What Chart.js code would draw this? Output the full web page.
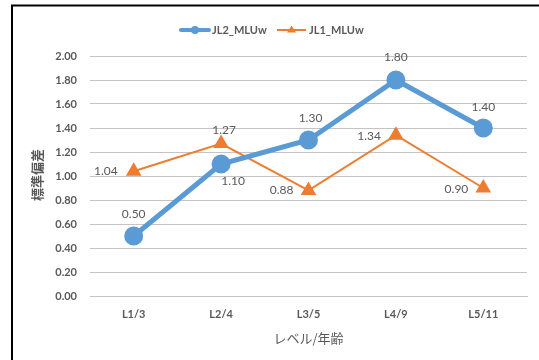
<!DOCTYPE html>
<html>
<head>
<meta charset="utf-8">
<script src="https://cdn.jsdelivr.net/npm/chart.js@4/dist/chart.umd.min.js"></script>
<style>
  body { margin: 0; background: #fff; }
  #wrap { width: 539px; height: 360px; position: relative; }
</style>
</head>
<body>
<div id="wrap"><canvas id="chart" width="539" height="360"></canvas></div>
<script>
// Chart data
const levels = ['L1/3', 'L2/4', 'L3/5', 'L4/9', 'L5/11'];
const jl2Values = [0.50, 1.10, 1.30, 1.80, 1.40];
const jl1Values = [1.04, 1.27, 0.88, 1.34, 0.90];
const seriesNames = ['JL2_MLUw', 'JL1_MLUw'];
const yTitle = '標準偏差';
const xTitle = 'レベル/年齢';

const BLUE = '#5B9BD5';
const ORANGE = '#ED7D31';
const GREY = '#595959';

// label offsets [dx, dy, align] per point
const jl2LabelPos = [[0, -22, 'center'], [12, 17, 'center'], [2, -22, 'center'], [0, -23, 'center'], [0, -21, 'center']];
const jl1LabelPos = [[-16, 0, 'right'], [3, -13, 'center'], [-15, 0, 'right'], [-15, 1, 'right'], [-15, 1, 'right']];

// Frame, titles, legend and data labels
const extrasPlugin = {
    id: 'extras',
    afterDraw(chart) {
        const ctx = chart.ctx;
        ctx.save();

        // partial black frame
        ctx.strokeStyle = '#000';
        ctx.lineWidth = 2;
        ctx.beginPath();
        ctx.moveTo(12, 360);
        ctx.lineTo(12, 5.5);
        ctx.lineTo(539, 5.5);
        ctx.stroke();

        // data labels
        ctx.font = '12px Lato, "Liberation Sans", sans-serif';
        ctx.fillStyle = GREY;
        ctx.textBaseline = 'middle';
        const labelSets = [[jl2Values, jl2LabelPos], [jl1Values, jl1LabelPos]];
        labelSets.forEach(([vals, pos], idx) => {
            chart.getDatasetMeta(idx).data.forEach((pt, i) => {
                ctx.textAlign = pos[i][2];
                ctx.fillText(vals[i].toFixed(2), pt.x + pos[i][0], pt.y + pos[i][1]);
            });
        });

        // axis titles
        ctx.font = 'bold 13px "Noto Sans CJK JP", sans-serif';
        ctx.save();
        ctx.translate(37, 175);
        ctx.rotate(-Math.PI / 2);
        ctx.textAlign = 'center';
        ctx.fillText(yTitle, 0, 0);
        ctx.restore();

        ctx.font = '13px "Noto Sans CJK JP", sans-serif';
        ctx.textAlign = 'center';
        ctx.fillText(xTitle, (chart.chartArea.left + chart.chartArea.right) / 2, 338);

        // legend
        ctx.font = 'bold 11px Lato, "Liberation Sans", sans-serif';
        ctx.textAlign = 'left';
        ctx.lineCap = 'round';
        ctx.strokeStyle = BLUE;
        ctx.lineWidth = 4;
        ctx.beginPath();
        ctx.moveTo(181, 30);
        ctx.lineTo(209, 30);
        ctx.stroke();
        ctx.fillStyle = BLUE;
        ctx.beginPath();
        ctx.arc(195, 30, 4, 0, Math.PI * 2);
        ctx.fill();
        ctx.fillStyle = GREY;
        ctx.fillText(seriesNames[0], 212, 30);

        ctx.strokeStyle = ORANGE;
        ctx.lineWidth = 2;
        ctx.lineCap = 'butt';
        ctx.beginPath();
        ctx.moveTo(277, 30);
        ctx.lineTo(306, 30);
        ctx.stroke();
        ctx.fillStyle = ORANGE;
        ctx.beginPath();
        ctx.moveTo(291.5, 25.5);
        ctx.lineTo(296, 32.5);
        ctx.lineTo(287, 32.5);
        ctx.closePath();
        ctx.fill();
        ctx.fillStyle = GREY;
        ctx.fillText(seriesNames[1], 309, 30);

        ctx.restore();
    }
};

new Chart(document.getElementById('chart'), {
    type: 'line',
    data: {
        labels: levels,
        datasets: [{
            label: seriesNames[0],
            data: jl2Values,
            borderColor: BLUE,
            backgroundColor: BLUE,
            borderWidth: 5,
            pointRadius: 7,
            pointHoverRadius: 7,
            pointStyle: 'circle',
            tension: 0
        }, {
            label: seriesNames[1],
            data: jl1Values,
            borderColor: ORANGE,
            backgroundColor: ORANGE,
            borderWidth: 2,
            pointRadius: 7,
            pointHoverRadius: 7,
            pointStyle: 'triangle',
            tension: 0
        }]
    },
    options: {
        responsive: false,
        animation: false,
        layout: { padding: { left: 10, right: 12, top: 56, bottom: 0 } },
        plugins: {
            legend: { display: false },
            tooltip: { enabled: false }
        },
        scales: {
            y: {
                min: 0,
                max: 2,
                ticks: {
                    stepSize: 0.2,
                    padding: 13,
                    color: GREY,
                    font: { family: 'Lato, "Liberation Sans", sans-serif', size: 11, weight: 'bold' },
                    callback: v => v.toFixed(2)
                },
                grid: { color: '#c4c4c4', drawTicks: false },
                border: { display: false },
                afterFit(scale) { scale.width = 80; }
            },
            x: {
                offset: true,
                ticks: {
                    padding: 12,
                    color: GREY,
                    font: { family: 'Lato, "Liberation Sans", sans-serif', size: 11, weight: 'bold' }
                },
                grid: { display: false, drawTicks: false },
                border: { display: true, color: '#c4c4c4' },
                afterFit(scale) { scale.height = 64; }
            }
        }
    },
    plugins: [extrasPlugin]
});
</script>
</body>
</html>
